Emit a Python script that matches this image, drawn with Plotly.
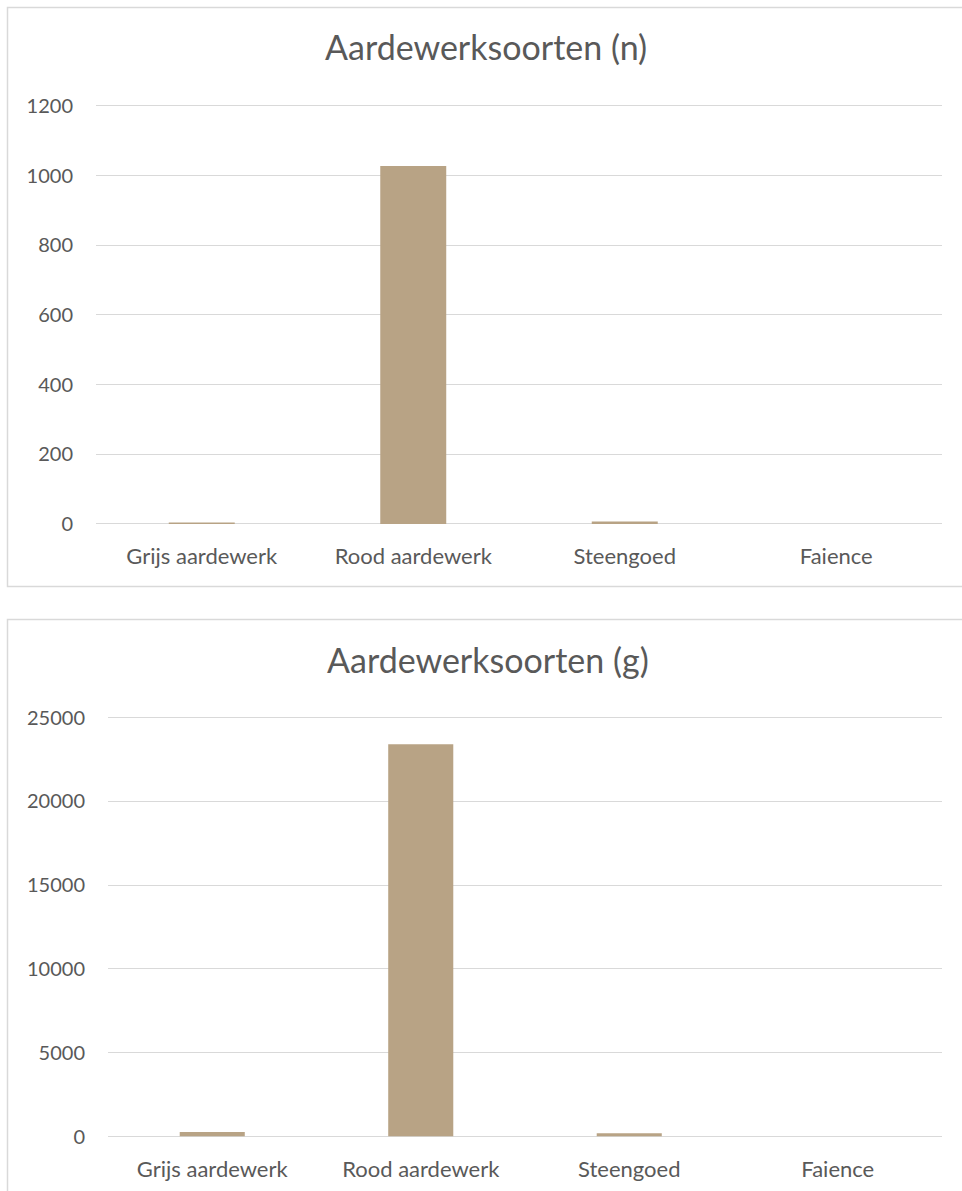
import plotly.graph_objects as go

categories = ["Grijs aardewerk", "Rood aardewerk", "Steengoed", "Faience"]
aantal_n = [4, 1028, 7, 0]
gewicht_g = [270, 23400, 190, 0]
title_n = "Aardewerksoorten (n)"
title_g = "Aardewerksoorten (g)"
ticks_n = [0, 200, 400, 600, 800, 1000, 1200]
ticks_g = [0, 5000, 10000, 15000, 20000, 25000]

W, H = 962, 1191
BAR = "#B8A385"
GRID = "#D9D9D9"
TXT = "#595959"
FONT = "Lato"

def py(px):
    return 1 - px / H

fig = go.Figure()
fig.add_trace(go.Bar(x=categories, y=aantal_n, marker=dict(color=BAR, line=dict(width=0)),
                     xaxis="x", yaxis="y", showlegend=False))
fig.add_trace(go.Bar(x=categories, y=gewicht_g, marker=dict(color=BAR, line=dict(width=0)),
                     xaxis="x2", yaxis="y2", showlegend=False))

axis_common_x = dict(showgrid=False, showline=False, zeroline=False, ticks="",
                     tickfont=dict(family=FONT, size=22, color=TXT), ticklabelstandoff=17,
                     automargin=False, fixedrange=True)
axis_common_y = dict(showgrid=True, gridcolor=GRID, gridwidth=1, zeroline=True,
                     zerolinecolor=GRID, zerolinewidth=1, showline=False, ticks="",
                     tickfont=dict(family=FONT, size=20, color=TXT), ticklabelstandoff=22,
                     tickformat="d", automargin=False, fixedrange=True)

# chart 1: 0 at y=524px, 1200 at y=106px; chart 2: 0 at 1136.5px, 25000 at 717.5px
top1 = 1210
top2 = 25250
fig.update_layout(
    width=W, height=H, autosize=False,
    margin=dict(l=0, r=0, t=0, b=0, pad=0, autoexpand=False),
    paper_bgcolor="white", plot_bgcolor="white",
    bargap=0.688,
    xaxis=dict(domain=[96 / W, 942 / W], anchor="y", **axis_common_x),
    yaxis=dict(domain=[py(524), py(524 - top1 * 418 / 1200)], anchor="x", range=[0, top1],
               tickvals=ticks_n, **axis_common_y),
    xaxis2=dict(domain=[108 / W, 942 / W], anchor="y2", **axis_common_x),
    yaxis2=dict(domain=[py(1136.5), py(1136.5 - top2 * 419 / 25000)], anchor="x2",
                range=[0, top2], tickvals=ticks_g, **axis_common_y),
    shapes=[
        dict(type="rect", xref="paper", yref="paper", x0=7.5 / W, x1=1.02,
             y0=py(586.5), y1=py(7.5), line=dict(color=GRID, width=1.5), layer="below"),
        dict(type="rect", xref="paper", yref="paper", x0=7.5 / W, x1=1.02,
             y0=-0.02, y1=py(619.5), line=dict(color=GRID, width=1.5), layer="below"),
    ],
    annotations=[
        dict(text=title_n, xref="paper", yref="paper", x=486 / W, y=py(47),
             xanchor="center", yanchor="middle", showarrow=False,
             font=dict(family=FONT, size=34, color=TXT)),
        dict(text=title_g, xref="paper", yref="paper", x=488 / W, y=py(659),
             xanchor="center", yanchor="middle", showarrow=False,
             font=dict(family=FONT, size=34, color=TXT)),
    ],
)

fig.write_html("out.html", config={"displayModeBar": False})
